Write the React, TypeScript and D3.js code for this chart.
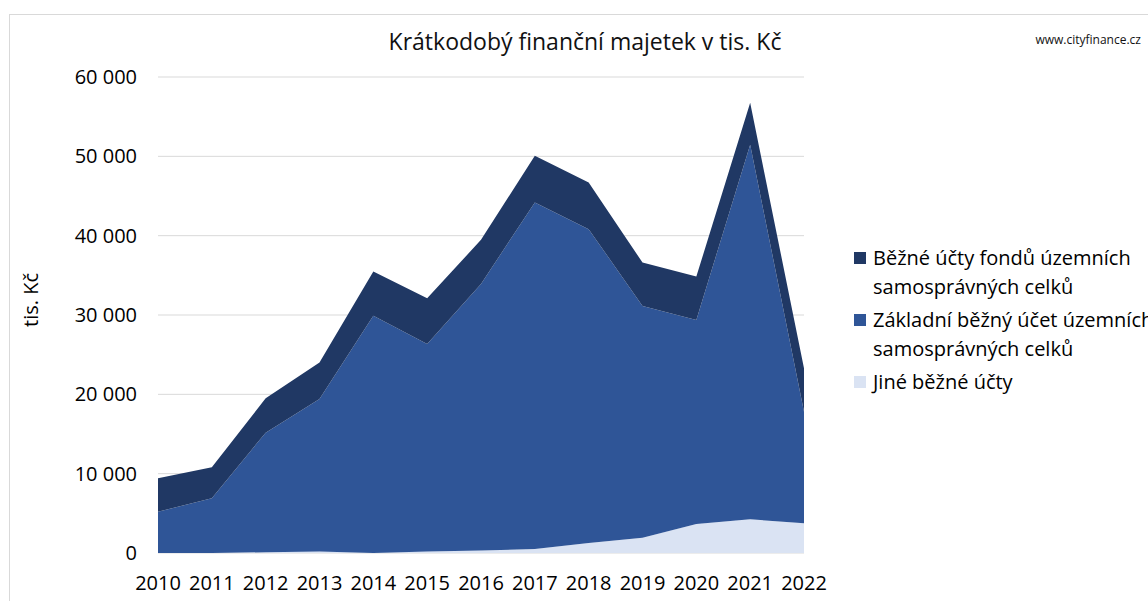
import React from "react";
import * as d3 from "d3";

const years = ["2010", "2011", "2012", "2013", "2014", "2015", "2016", "2017", "2018", "2019", "2020", "2021", "2022"];
// tis. Kč
const jine = [0, 0, 100, 200, 0, 200, 300, 500, 1260, 1930, 3650, 4250, 3750];
const zakladni = [5200, 6900, 15070, 19220, 29890, 26160, 33620, 43670, 39560, 29220, 25730, 47200, 14070];
const fondy = [4210, 3900, 4330, 4580, 5580, 5760, 5550, 5890, 5880, 5460, 5460, 5300, 5470];
const yTicks = [0, 10000, 20000, 30000, 40000, 50000, 60000];

const seriesKeys = ["jine", "zakladni", "fondy"];
const colors: Record<string, string> = { jine: "#DAE3F3", zakladni: "#2F5597", fondy: "#203864" };

const legendItems = [
  { key: "fondy", lines: ["Běžné účty fondů územních", "samosprávných celků"] },
  { key: "zakladni", lines: ["Základní běžný účet územních", "samosprávných celků"] },
  { key: "jine", lines: ["Jiné běžné účty"] },
];

const font = "'Open Sans', 'Noto Sans', sans-serif";

const App = () => {
  const width = 1148;
  const height = 601;
  const left = 158;
  const right = 804;
  const top = 77;
  const bottom = 553;

  const x = d3.scalePoint<string>().domain(years).range([left, right]);
  const y = d3.scaleLinear().domain([0, 60000]).range([bottom, top]);

  const rows = years.map((yr, i) => ({ year: yr, jine: jine[i], zakladni: zakladni[i], fondy: fondy[i] }));
  const stacked = d3.stack<any>().keys(seriesKeys)(rows);

  const area = d3
    .area<any>()
    .x((d) => x(d.data.year) as number)
    .y0((d) => y(d[0]))
    .y1((d) => y(d[1]));

  const fmt = (v: number) => d3.format(",")(v).replace(/,/g, " ");

  let ly = 258;
  const legend = legendItems.map((item) => {
    const startY = ly;
    ly += item.lines.length * 28 + 6;
    return { ...item, y: startY };
  });

  return (
    <svg width={width} height={height} style={{ display: "block", position: "absolute", left: 0, top: 0 }} fontFamily={font}>
      <rect x={0} y={0} width={width} height={height} fill="#fff" />
      <rect x={9.5} y={14.5} width={1200} height={700} fill="none" stroke="#d9d9d9" />

      <text x={585} y={50} textAnchor="middle" fontSize={23} fill="#111">
        Krátkodobý finanční majetek v tis. Kč
      </text>
      <text x={1141} y={44} textAnchor="end" fontSize={12} fill="#111">
        www.cityfinance.cz
      </text>

      {yTicks.map((t) => (
        <g key={t}>
          <line x1={left} x2={right} y1={y(t)} y2={y(t)} stroke="#d9d9d9" strokeWidth={1} />
          <text x={137} y={y(t)} dy="0.35em" textAnchor="end" fontSize={20} fill="#000">
            {fmt(t)}
          </text>
        </g>
      ))}

      {stacked.map((s) => (
        <path key={s.key} d={area(s) || ""} fill={colors[s.key]} />
      ))}

      {years.map((yr) => (
        <text key={yr} x={x(yr)} y={590} textAnchor="middle" fontSize={20} fill="#000">
          {yr}
        </text>
      ))}

      <text transform="translate(38,300) rotate(-90)" textAnchor="middle" fontSize={20} fill="#000">
        tis. Kč
      </text>

      {legend.map((item) => (
        <g key={item.key}>
          <rect x={854} y={item.y - 6} width={12} height={12} fill={colors[item.key]} />
          {item.lines.map((ln, j) => (
            <text key={j} x={873} y={item.y + j * 29} dy="0.35em" fontSize={20} fill="#000">
              {ln}
            </text>
          ))}
        </g>
      ))}
    </svg>
  );
};

export default App;
